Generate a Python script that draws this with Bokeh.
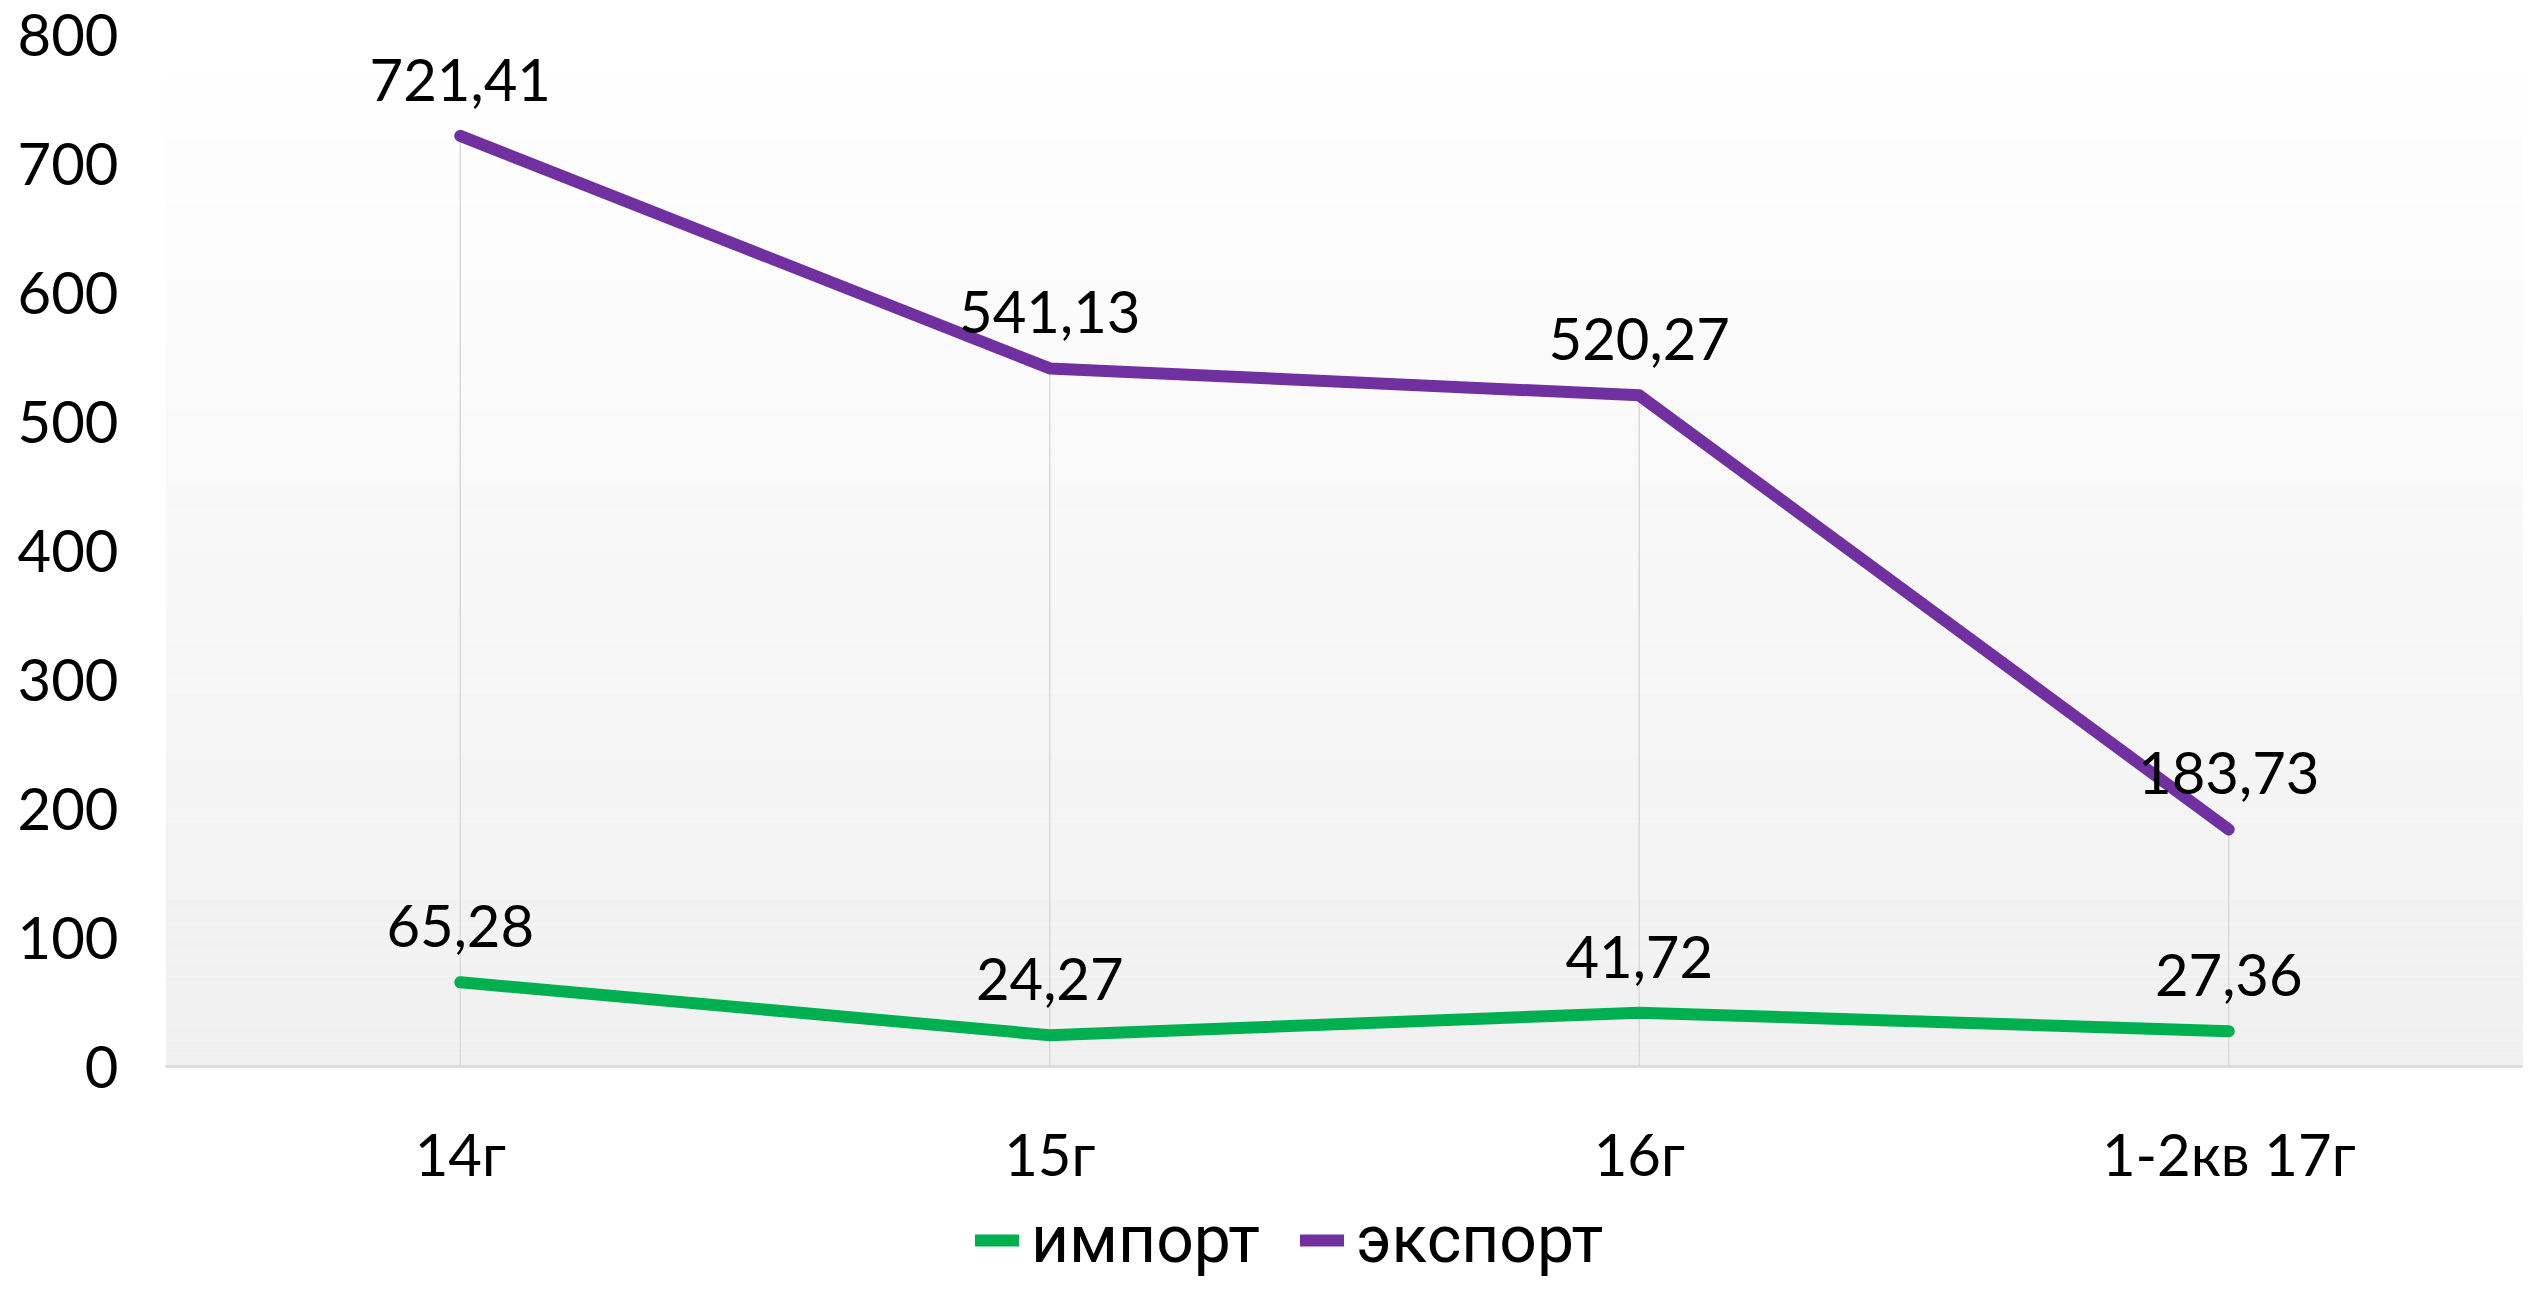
from bokeh.plotting import figure
from bokeh.layouts import column
from bokeh.models import (FactorRange, Range1d, FixedTicker, ColumnDataSource, Legend, LegendItem,
                          BoxAnnotation, LabelSet)
from bokeh.core.properties import value
from bokeh.embed import file_html
from bokeh.resources import INLINE

categories = ["14г", "15г", "16г", "1-2кв 17г"]
import_vals = [65.28, 24.27, 41.72, 27.36]
export_vals = [721.41, 541.13, 520.27, 183.73]
y_ticks = [0, 100, 200, 300, 400, 500, 600, 700, 800]
series_names = ["импорт", "экспорт"]

GREEN = "#00B050"
PURPLE = "#7030A0"
FONT = "Lato"
LW = 12

p = figure(width=2523, height=1190, x_range=FactorRange(*categories, range_padding=0),
           y_range=Range1d(0, 800), output_backend="svg", toolbar_location=None,
           min_border_left=165, min_border_right=0, min_border_top=34, min_border_bottom=118,
           background_fill_color="white", border_fill_color="white", outline_line_color=None)

# gradient background of the plot area
n = 80
for i in range(n):
    b = 800 * i / n
    t = 800 * (i + 1) / n
    frac = 1 - (i + 0.5) / n  # 1 at bottom, 0 at top
    g = int(round(255 - (255 - 240) * frac))
    p.add_layout(BoxAnnotation(bottom=b, top=t, fill_color=f"#{g:02x}{g:02x}{g:02x}", fill_alpha=1,
                               line_alpha=0, level="underlay"))

# drop lines
drop_top = [max(a, b) for a, b in zip(import_vals, export_vals)]
p.segment(x0=categories, y0=[0] * 4, x1=categories, y1=drop_top, line_color="#d9d9d9", line_width=1.5)

src_i = ColumnDataSource(dict(x=categories, y=import_vals,
                              lab=[f"{v:.2f}".replace(".", ",") for v in import_vals]))
src_e = ColumnDataSource(dict(x=categories, y=export_vals,
                              lab=[f"{v:.2f}".replace(".", ",") for v in export_vals]))

p.line("x", "y", source=src_i, line_color=GREEN, line_width=LW, line_cap="round", line_join="round")
p.line("x", "y", source=src_e, line_color=PURPLE, line_width=LW, line_cap="round", line_join="round")

for s in (src_i, src_e):
    p.add_layout(LabelSet(x="x", y="y", text="lab", source=s, text_align="center", text_baseline="middle",
                          y_offset=56, text_font=value(FONT), text_font_size="58px", text_color="black"))

p.xgrid.grid_line_color = None
p.ygrid.grid_line_color = None

p.xaxis.axis_line_color = "#d9d9d9"
p.xaxis.axis_line_width = 2.5
p.xaxis.major_tick_line_color = None
p.xaxis.minor_tick_line_color = None
p.xaxis.major_label_text_font = FONT
p.xaxis.major_label_text_font_size = "58px"
p.xaxis.major_label_text_color = "black"
p.xaxis.major_label_standoff = 46

p.yaxis.ticker = FixedTicker(ticks=y_ticks)
p.yaxis.axis_line_color = None
p.yaxis.major_tick_line_color = None
p.yaxis.minor_tick_line_color = None
p.yaxis.major_label_text_font = FONT
p.yaxis.major_label_text_font_size = "58px"
p.yaxis.major_label_text_color = "black"
p.yaxis.major_label_standoff = 41

# legend strip below the chart
nan = float("nan")
pl = figure(width=2523, height=88, x_range=Range1d(0, 1), y_range=Range1d(0, 1),
            x_axis_location=None, y_axis_location=None,
            output_backend="svg", toolbar_location=None, min_border=0,
            background_fill_color="white", border_fill_color="white", outline_line_color=None)
pl.grid.grid_line_color = None
li = pl.line(x=[nan, nan], y=[nan, nan], line_color=GREEN, line_width=LW, line_cap="round")
le = pl.line(x=[nan, nan], y=[nan, nan], line_color=PURPLE, line_width=LW, line_cap="round")
legend = Legend(items=[LegendItem(label=series_names[0], renderers=[li], index=0),
                       LegendItem(label=series_names[1], renderers=[le], index=0)],
                orientation="horizontal", location=(810, 0),
                label_text_font="Roboto", label_text_font_size="66px", label_text_color="black",
                glyph_width=44, glyph_height=40, label_standoff=12, spacing=40, padding=0, margin=0,
                border_line_color=None, background_fill_alpha=0)
pl.add_layout(legend)

open("out.html", "w").write(file_html(column(p, pl, spacing=0), INLINE))
